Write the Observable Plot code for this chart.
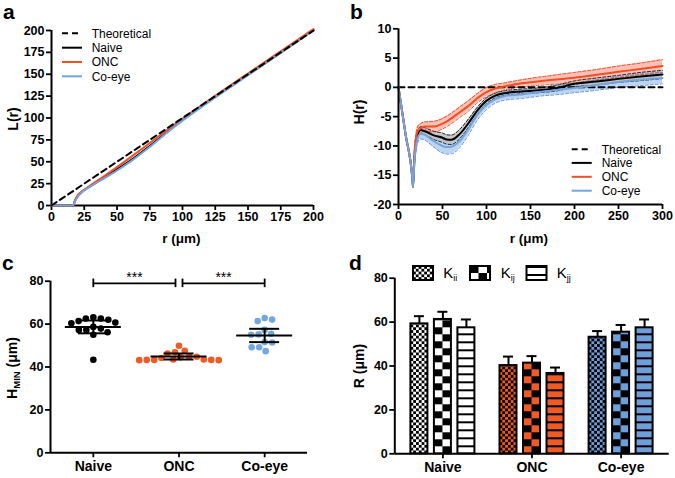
<!DOCTYPE html>
<html>
<head>
<meta charset="utf-8">
<script src="https://cdn.jsdelivr.net/npm/d3@7"></script>
<script src="https://cdn.jsdelivr.net/npm/@observablehq/plot@0.6"></script>
<style>
  body { margin: 0; background: #fff; }
  #fig { position: relative; width: 675px; height: 478px; overflow: hidden; background: #fff; }
</style>
</head>
<body>
<div id="fig"></div>
<script>
// ---------------- DATA ----------------
const seriesNames = ["Naive", "ONC", "Co-eye"];

// Panel a: L(r)
const rA = [0, 16.5, 18, 20, 22, 25, 30, 40, 50, 60, 75, 90, 100, 125, 150, 175, 200];
const LNaive = [0, 0, 5.5, 10.5, 14, 17.7, 22.5, 31.8, 41.4, 51, 68, 86.1, 97.7, 124, 149.4, 174.6, 200.6];
const LONC   = [0, 0, 6.5, 11.5, 14.6, 18, 23.3, 33.3, 43.8, 54.7, 71.4, 88.2, 99.2, 125.3, 150.9, 176.3, 201.6];
const LCoeye = [0, 0, 5, 10, 13.4, 17.1, 21.9, 30.8, 40, 49.9, 67, 85.4, 97, 123.6, 149, 174.5, 199.9];
const rTheoA = [0, 200];
const LTheo = [0, 200];

// Panel b: H(r) with error bands
const rB = [0, 8, 16, 16.5, 18, 20, 22, 25, 30, 40, 50, 55, 60, 70, 80, 90, 100, 110, 120, 140, 160, 180, 200, 225, 250, 275, 300];
const HNaive   = [0, -8, -16, -17, -12.5, -9.5, -8, -7.3, -7.5, -8.2, -8.6, -8.9, -8.95, -7.9, -6.0, -3.9, -2.3, -1.4, -1.0, -0.7, -0.5, -0.1, 0.6, 1.0, 1.45, 1.85, 2.2];
const HNaiveErr= [0, 0, 0, 0, 0.4, 0.5, 0.6, 0.6, 0.6, 0.7, 0.8, 0.8, 0.8, 0.8, 0.7, 0.6, 0.5, 0.4, 0.4, 0.4, 0.4, 0.5, 0.5, 0.6, 0.6, 0.7, 0.7];
const HONC     = [0, -8, -16, -17, -11.5, -8.5, -7.4, -7.0, -6.7, -6.7, -6.2, -5.8, -5.3, -4.2, -3.1, -1.8, -0.8, -0.2, 0.15, 0.7, 1.05, 1.35, 1.65, 2.15, 2.65, 3.15, 3.65];
const HONCErr  = [0, 0, 0, 0, 0.5, 0.7, 0.8, 0.8, 0.8, 0.9, 0.9, 0.9, 0.9, 0.9, 0.9, 0.8, 0.8, 0.7, 0.6, 0.6, 0.7, 0.8, 0.9, 0.9, 1.0, 1.0, 1.1];
const HCoeye   = [0, -8, -16, -17, -13, -10, -8.6, -7.9, -8.1, -9.2, -10.0, -10.2, -10.15, -9.1, -7.0, -4.6, -3.0, -2.0, -1.5, -1.2, -0.8, -0.45, -0.1, 0.4, 0.9, 1.3, 1.6];
const HCoeyeErr= [0, 0, 0, 0, 0.5, 0.7, 0.8, 0.9, 0.9, 1.0, 1.2, 1.2, 1.2, 1.1, 1.0, 0.9, 0.8, 0.7, 0.7, 0.7, 0.7, 0.8, 0.8, 0.9, 0.9, 1.0, 1.0];
const rTheoB = [0, 300];
const HTheo = [0, 0];

// Panel c: H_MIN per retina
const groups = ["Naive", "ONC", "Co-eye"];
const hminNaive = [63.2, 62.6, 61.4, 60.4, 60.7, 62.0, 62.6, 58.7, 57.3, 56.2, 55.0, 57.3, 57.9, 43.4];
const hminONC   = [46.9, 49.9, 47.6, 46.3, 44.8, 44.5, 43.5, 43.3, 43.2, 43.2, 43.3, 43.3, 43.5, 44.2, 44.8];
const hminCoeye = [62.1, 61.4, 62.8, 55.2, 55.5, 57.3, 55.0, 49.2, 51.6, 49.2, 51.4, 47.4];
const hminMean = [58.7, 44.9, 54.7];
const hminErr  = [3.0, 1.4, 3.1];
const sigPairs = [["Naive", "ONC"], ["ONC", "Co-eye"]];
const sigLabels = ["***", "***"];

// Panel d: R per function
const kinds = ["Kii", "Kij", "Kjj"];
const RNaive = [59.2, 61.2, 57.4];
const RONC   = [40.2, 41.3, 36.6];
const RCoeye = [53.1, 55.4, 57.4];
const RErrNaive = [3.5, 3.5, 3.8];
const RErrONC   = [4.1, 3.2, 2.7];
const RErrCoeye = [2.8, 3.3, 3.8];

// Ticks
const ticksA = [0, 25, 50, 75, 100, 125, 150, 175, 200];
const ticksBx = [0, 50, 100, 150, 200, 250, 300];
const ticksBy = [-20, -15, -10, -5, 0, 5, 10];
const ticksCD = [0, 20, 40, 60, 80];

// ---------------- STYLE ----------------
const FONT = '"Liberation Sans", Arial, Helvetica, sans-serif';
const lineColors = ["#000000", "#f04e23", "#72a4de"];
const bandColors = ["#bfbfbf", "#f8b6a8", "#b3cdee"];
const edgeColors = ["#222222", "#f04e23", "#5d93d6"];
const dotColors = ["#000000", "#f05a24", "#75a7df"];
const barColors = ["#ffffff", "#f15a22", "#6e9fdb"];

const fig = document.getElementById("fig");
function place(svg, left, top) {
  svg.style.position = "absolute";
  svg.style.left = left + "px";
  svg.style.top = top + "px";
  fig.appendChild(svg);
}
const baseStyle = {fontFamily: FONT, fontSize: "12.5px", fontWeight: "bold", color: "#000", background: "none", overflow: "visible"};
const axisOpts = {tickSize: 5, tickPadding: 2, strokeWidth: 1.8, label: null, tickFormat: d => String(d)};

// ---------------- PANEL A ----------------
const Ls = [LNaive, LONC, LCoeye];
const dataA = seriesNames.flatMap((name, si) => rA.map((r, i) => ({series: name, r, L: Ls[si][i]})));
const theoA = rTheoA.map((r, i) => ({r, L: LTheo[i]}));
const svgA = Plot.plot({
  width: 335, height: 250, marginLeft: 51, marginRight: 22, marginTop: 30, marginBottom: 45,
  style: baseStyle,
  x: {domain: [0, 200]},
  y: {domain: [0, 200]},
  color: {domain: seriesNames, range: lineColors},
  marks: [
    Plot.ruleX([0], {strokeWidth: 2}),
    Plot.ruleY([0], {strokeWidth: 2}),
    Plot.axisX({...axisOpts, ticks: ticksA}),
    Plot.axisY({...axisOpts, ticks: ticksA}),
    Plot.line(dataA, {x: "r", y: "L", z: "series", stroke: "series", strokeWidth: 2, curve: "monotone-x"}),
    Plot.line(theoA, {x: "r", y: "L", stroke: "#000", strokeWidth: 2, strokeDasharray: "6,4"})
  ]
});
place(svgA, 0, 0);

// ---------------- PANEL B ----------------
const Hs = [HNaive, HONC, HCoeye];
const Es = [HNaiveErr, HONCErr, HCoeyeErr];
const dataB = seriesNames.flatMap((name, si) => rB.map((r, i) => ({
  series: name, r, H: Hs[si][i], lo: Hs[si][i] - Es[si][i], hi: Hs[si][i] + Es[si][i]
})));
const theoB = rTheoB.map((r, i) => ({r, H: HTheo[i]}));
const bandOrder = [2, 0, 1];
const svgB = Plot.plot({
  width: 340, height: 250, marginLeft: 63, marginRight: 13, marginTop: 28.3, marginBottom: 46,
  style: baseStyle,
  x: {domain: [0, 300]},
  y: {domain: [-20, 10]},
  color: {domain: seriesNames, range: edgeColors},
  marks: [
    ...bandOrder.map(si => Plot.areaY(dataB.filter(d => d.series === seriesNames[si]),
      {x: "r", y1: "lo", y2: "hi", fill: bandColors[si], fillOpacity: 0.85, curve: "monotone-x"})),
    Plot.line(dataB, {x: "r", y: "lo", z: "series", stroke: "series", strokeWidth: 1, strokeDasharray: "3,2", curve: "monotone-x"}),
    Plot.line(dataB, {x: "r", y: "hi", z: "series", stroke: "series", strokeWidth: 1, strokeDasharray: "3,2", curve: "monotone-x"}),
    Plot.line(theoB, {x: "r", y: "H", stroke: "#000", strokeWidth: 2, strokeDasharray: "6,4"}),
    ...[0, 1, 2].map(si => Plot.line(dataB.filter(d => d.series === seriesNames[si]),
      {x: "r", y: "H", stroke: lineColors[si], strokeWidth: 2, curve: "monotone-x"})),
    Plot.ruleX([0], {strokeWidth: 2}),
    Plot.ruleY([-20], {strokeWidth: 2}),
    Plot.axisX({...axisOpts, ticks: ticksBx}),
    Plot.axisY({...axisOpts, ticks: ticksBy})
  ]
});
place(svgB, 335, 0);

// ---------------- PANEL C ----------------
const cW = 335, cH = 238, cML = 50, cMR = 28, cMT = 40.7, cMB = 25.7;
const pxPerX = (cW - cML - cMR) / 3;
const pxPerY = (cH - cMT - cMB) / 80;
const dotR = 3.3;
function dodge(values) {
  const order = d3.range(values.length).sort((a, b) => values[b] - values[a]);
  const placed = [], out = new Array(values.length);
  const D = 2 * dotR + 0.9;
  for (const i of order) {
    const y = values[i] * pxPerY;
    let best = null;
    for (let k = 0; k < 800 && best === null; k++) {
      const cands = k === 0 ? [0] : [k * 0.25, -k * 0.25];
      for (const c of cands) {
        if (placed.every(p => (p.x - c) ** 2 + (p.y - y) ** 2 >= D * D)) { best = c; break; }
      }
    }
    placed.push({x: best, y});
    out[i] = best;
  }
  return out;
}
const hmins = [hminNaive, hminONC, hminCoeye];
const center = g => groups.indexOf(g) + 0.5;
const dataC = groups.flatMap((g, gi) => {
  const off = dodge(hmins[gi]);
  return hmins[gi].map((v, i) => ({group: g, v, x: center(g) + off[i] / pxPerX}));
});
const statsC = groups.map((g, gi) => ({group: g, mean: hminMean[gi], err: hminErr[gi]}));
const meanHalf = 28 / pxPerX, capHalf = 15 / pxPerX, gapX = 3.5 / pxPerX;
const brackets = sigPairs.map(([a, b], i) => ({
  x1: center(a) + (i > 0 ? gapX : 0),
  x2: center(b) - (i === 0 ? gapX : 0),
  label: sigLabels[i]
}));
const bracketEnds = brackets.flatMap(b => [{x: b.x1}, {x: b.x2}]);
const svgC = Plot.plot({
  width: cW, height: cH, marginLeft: cML, marginRight: cMR, marginTop: cMT, marginBottom: cMB,
  style: baseStyle,
  x: {domain: [0, 3]},
  y: {domain: [0, 80]},
  color: {domain: groups, range: dotColors},
  marks: [
    Plot.ruleX([0], {strokeWidth: 2}),
    Plot.ruleY([0], {strokeWidth: 2}),
    Plot.axisY({...axisOpts, ticks: ticksCD}),
    Plot.axisX({...axisOpts, ticks: groups.map(center), tickFormat: x => groups[Math.floor(x)], fontSize: 14, tickPadding: 3}),
    Plot.dot(dataC, {x: "x", y: "v", r: dotR, fill: "group", stroke: null}),
    Plot.ruleY(statsC, {x1: d => center(d.group) - meanHalf, x2: d => center(d.group) + meanHalf, y: "mean", strokeWidth: 2}),
    Plot.ruleX(statsC, {x: d => center(d.group), y1: d => d.mean - d.err, y2: d => d.mean + d.err, strokeWidth: 2}),
    Plot.ruleY(statsC, {x1: d => center(d.group) - capHalf, x2: d => center(d.group) + capHalf, y: d => d.mean + d.err, strokeWidth: 2}),
    Plot.ruleY(statsC, {x1: d => center(d.group) - capHalf, x2: d => center(d.group) + capHalf, y: d => d.mean - d.err, strokeWidth: 2}),
    Plot.ruleY(brackets, {x1: "x1", x2: "x2", y: 79, strokeWidth: 1.8, clip: false}),
    Plot.ruleX(bracketEnds, {x: "x", y1: 77, y2: 81, strokeWidth: 1.8}),
    Plot.text(brackets, {x: d => (d.x1 + d.x2) / 2, y: 81.6, text: "label", fontSize: 14, fontWeight: "normal", lineAnchor: "middle"})
  ]
});
place(svgC, 0, 240);

// ---------------- PANEL D ----------------
// linear x position: group gi is centred at gi + 0.5; bars offset around it
const dW = 340, dH = 238, dML = 59.3, dMR = 6.3, dMT = 37.7, dMB = 24.7;
const dDomain = [-0.04, 3.04];
const pxPerXD = (dW - dML - dMR) / (dDomain[1] - dDomain[0]);
const barW = 17 / pxPerXD, barStep = 23.5 / pxPerXD, capW = 10 / pxPerXD;
const Rs = [RNaive, RONC, RCoeye], REs = [RErrNaive, RErrONC, RErrCoeye];
const dataD = groups.flatMap((g, gi) => kinds.map((k, ki) => ({group: g, gi, kind: k, ki, value: Rs[gi][ki], err: REs[gi][ki]})));
const barCenter = d => d.gi + 0.5 + (d.ki - 1) * barStep;
const svgD = Plot.plot({
  width: dW, height: dH, marginLeft: dML, marginRight: dMR, marginTop: dMT, marginBottom: dMB,
  style: baseStyle,
  x: {domain: dDomain},
  y: {domain: [0, 80]},
  color: {type: "identity"},
  marks: [
    Plot.ruleX([dDomain[0]], {strokeWidth: 2}),
    Plot.ruleY([0], {strokeWidth: 2}),
    Plot.axisY({...axisOpts, ticks: ticksCD}),
    Plot.axisX({...axisOpts, ticks: groups.map((g, gi) => gi + 0.5), tickFormat: x => groups[Math.floor(x)], fontSize: 14, tickPadding: 3}),
    Plot.ruleX(dataD, {x: barCenter, y1: "value", y2: d => d.value + d.err, strokeWidth: 2}),
    Plot.ruleY(dataD, {x1: d => barCenter(d) - capW / 2, x2: d => barCenter(d) + capW / 2, y: d => d.value + d.err, strokeWidth: 2}),
    Plot.rectY(dataD, {
      x1: d => barCenter(d) - barW / 2, x2: d => barCenter(d) + barW / 2, y: "value",
      fill: d => `url(#pd-${d.gi}-${d.ki})`, stroke: "#000", strokeWidth: 2
    })
  ]
});
place(svgD, 335, 240);

// Patterns (fills for the bars), aligned on each bar
function addPattern(defs, id, ki, color, x0, y0) {
  const p = defs.append("pattern").attr("id", id).attr("patternUnits", "userSpaceOnUse");
  if (ki === 0) {
    const s = 2.8;
    p.attr("x", x0).attr("y", y0).attr("width", 2 * s).attr("height", 2 * s);
    p.append("rect").attr("width", 2 * s).attr("height", 2 * s).attr("fill", color);
    p.append("rect").attr("width", s).attr("height", s).attr("fill", "#000");
    p.append("rect").attr("x", s).attr("y", s).attr("width", s).attr("height", s).attr("fill", "#000");
  } else if (ki === 1) {
    const sw = 8.5, sh = 7;
    p.attr("x", x0).attr("y", y0).attr("width", 2 * sw).attr("height", 2 * sh);
    p.append("rect").attr("width", 2 * sw).attr("height", 2 * sh).attr("fill", color);
    p.append("rect").attr("width", sw).attr("height", sh).attr("fill", "#000");
    p.append("rect").attr("x", sw).attr("y", sh).attr("width", sw).attr("height", sh).attr("fill", "#000");
  } else {
    p.attr("x", x0).attr("y", y0).attr("width", 10).attr("height", 8);
    p.append("rect").attr("width", 10).attr("height", 8).attr("fill", color);
    p.append("rect").attr("width", 10).attr("height", 2).attr("fill", "#000");
  }
}
{
  const sel = d3.select(svgD);
  const defs = sel.insert("defs", ":first-child");
  sel.selectAll("rect").each(function () {
    const f = this.getAttribute("fill");
    if (!f || !f.startsWith("url(#pd-")) return;
    const m = f.match(/pd-(\d)-(\d)/);
    const gi = +m[1], ki = +m[2];
    const x = +this.getAttribute("x"), y = +this.getAttribute("y"), h = +this.getAttribute("height");
    addPattern(defs, `pd-${gi}-${ki}`, ki, barColors[gi], x, y + h);
  });
}

// ---------------- OVERLAY: titles, legends, letters ----------------
const ov = d3.select(fig).append("svg")
  .attr("width", 675).attr("height", 478)
  .style("position", "absolute").style("left", "0px").style("top", "0px")
  .style("font-family", FONT).style("overflow", "visible");

function label(x, y, text, {size = 13.5, weight = "bold", anchor = "middle", rotate = false} = {}) {
  const t = ov.append("text").attr("font-size", size).attr("font-weight", weight).attr("text-anchor", anchor);
  if (rotate) t.attr("transform", `translate(${x},${y}) rotate(-90)`);
  else t.attr("x", x).attr("y", y);
  return t.text(text);
}
// panel letters
label(3, 18.5, "a", {size: 21, anchor: "start"});
label(350, 18.5, "b", {size: 21, anchor: "start"});
label(2, 270, "c", {size: 21, anchor: "start"});
label(349, 270, "d", {size: 21, anchor: "start"});

// axis titles
label(18, 119, "L(r)", {size: 14, rotate: true});
label(181.5, 243, "r (\u03bcm)");
label(364, 112, "H(r)", {size: 14, rotate: true});
label(529, 243, "r (\u03bcm)");
{
  const t = ov.append("text").attr("font-size", 14).attr("font-weight", "bold").attr("text-anchor", "middle")
    .attr("transform", "translate(17,368) rotate(-90)");
  t.append("tspan").text("H");
  t.append("tspan").attr("font-size", 9.5).attr("dy", 3).text("MIN");
  t.append("tspan").attr("dy", -3).text(" (\u03bcm)");
}
label(364, 366, "R (\u03bcm)", {size: 14, rotate: true});

// legends a and b
const legendItems = [
  {label: "Theoretical", color: "#000", dash: "6,4"},
  {label: "Naive", color: lineColors[0]},
  {label: "ONC", color: lineColors[1]},
  {label: "Co-eye", color: lineColors[2]}
];
function lineLegend(x0, x1, xt, rows) {
  legendItems.forEach((it, i) => {
    ov.append("line").attr("x1", x0).attr("x2", x1).attr("y1", rows[i]).attr("y2", rows[i])
      .attr("stroke", it.color).attr("stroke-width", 2).attr("stroke-dasharray", it.dash || null);
    ov.append("text").attr("x", xt).attr("y", rows[i] + 4.3).attr("font-size", 12).text(it.label);
  });
}
lineLegend(62, 82, 91.7, [33.3, 47.7, 62, 76.3]);
lineLegend(571.7, 591.7, 601.7, [149.3, 162.9, 176.8, 190.7]);

// legend d
{
  const defs = ov.append("defs");
  const sw = [{x: 413, t: 443.3, sub: "ii"}, {x: 470, t: 500.7, sub: "ij"}, {x: 526.5, t: 556.7, sub: "jj"}];
  sw.forEach((s, ki) => {
    addPattern(defs, `pl-${ki}`, ki, "#ffffff", s.x, 266);
    ov.append("rect").attr("x", s.x).attr("y", 266).attr("width", 20).attr("height", 14)
      .attr("fill", `url(#pl-${ki})`).attr("stroke", "#000").attr("stroke-width", 2);
    const t = ov.append("text").attr("x", s.t).attr("y", 278).attr("font-size", 15);
    t.append("tspan").text("K");
    t.append("tspan").attr("font-size", 9).attr("dy", 3).text(s.sub);
  });
}
</script>
</body>
</html>
